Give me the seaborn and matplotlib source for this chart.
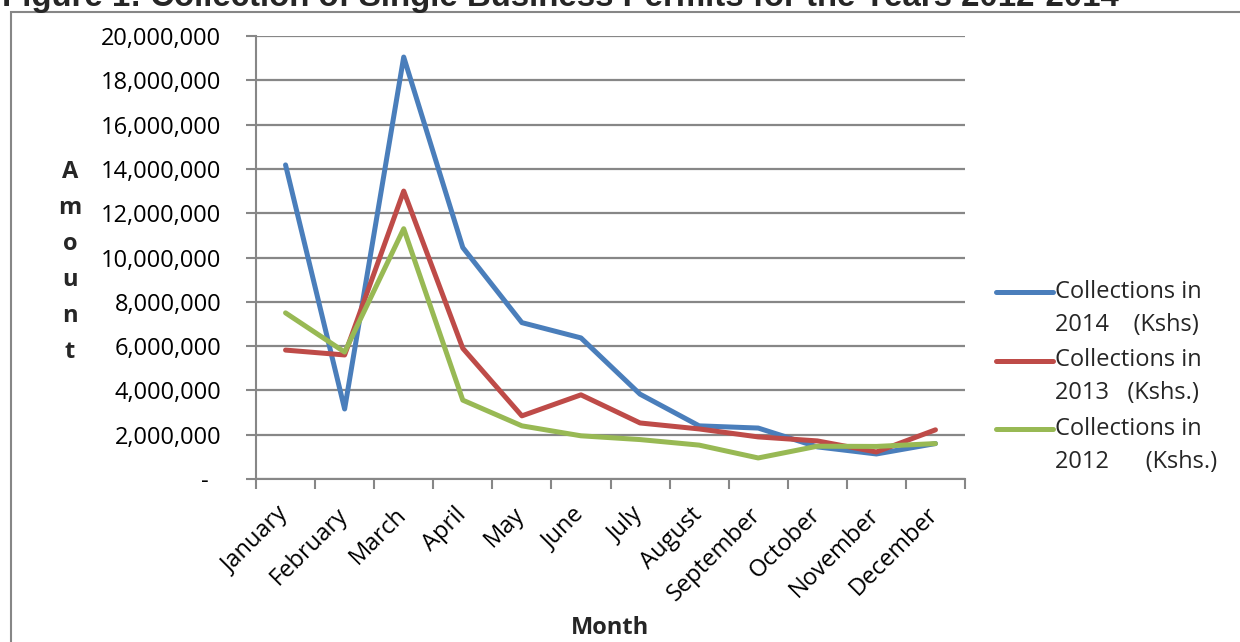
import matplotlib
matplotlib.use("Agg")
import matplotlib.pyplot as plt
import matplotlib.transforms as mtransforms
from matplotlib.patches import Rectangle
from matplotlib.lines import Line2D
from matplotlib.legend_handler import HandlerLine2D
from matplotlib.ticker import FuncFormatter, FixedLocator
import numpy as np
import pandas as pd
import seaborn as sns

months = ["January", "February", "March", "April", "May", "June", "July",
          "August", "September", "October", "November", "December"]
collections_2014 = [14_180_000, 3_160_000, 19_050_000, 10_450_000, 7_060_000, 6_370_000,
                    3_830_000, 2_400_000, 2_300_000, 1_450_000, 1_130_000, 1_600_000]
collections_2013 = [5_820_000, 5_600_000, 13_000_000, 5_900_000, 2_850_000, 3_800_000,
                    2_530_000, 2_260_000, 1_900_000, 1_720_000, 1_220_000, 2_220_000]
collections_2012 = [7_500_000, 5_730_000, 11_300_000, 3_560_000, 2_400_000, 1_950_000,
                    1_780_000, 1_530_000, 950_000, 1_480_000, 1_470_000, 1_600_000]
series_labels = ["Collections in\n2014    (Kshs)",
                 "Collections in\n2013   (Kshs.)",
                 "Collections in\n2012      (Kshs.)"]
colors = ["#4A7EBB", "#BE4B48", "#98B954"]

frames = []
for label, values in zip(series_labels, [collections_2014, collections_2013, collections_2012]):
    frames.append(pd.DataFrame({"pos": range(len(months)), "amount": values, "series": label}))
df = pd.concat(frames, ignore_index=True)


class FirstLineHandler(HandlerLine2D):
    """Legend line drawn level with the first line of a two-line label."""

    def create_artists(self, legend, orig_handle, xdescent, ydescent, width, height, fontsize, trans):
        artists = super().create_artists(legend, orig_handle, xdescent, ydescent,
                                         width, height, fontsize, trans)
        for art in artists:
            art.set_ydata(np.asarray(art.get_ydata()) + 0.72 * fontsize)
        return artists


sns.set_theme(style="white")
plt.rcParams["font.family"] = ["Open Sans", "DejaVu Sans"]

fig = plt.figure(figsize=(12.4, 6.42), dpi=100)
ax = fig.add_axes([256 / 1240, 1 - 479 / 642, (965 - 256) / 1240, (479 - 36) / 642])

sns.lineplot(data=df, x="pos", y="amount", hue="series", palette=colors,
             linewidth=3.6, ax=ax, sort=False, legend=True)

grid_col = "#878787"
ax.set_xlim(-0.5, len(months) - 0.5)
ax.set_ylim(0, 20_000_000)
ax.yaxis.set_major_locator(FixedLocator(range(0, 20_000_001, 2_000_000)))
ax.yaxis.set_major_formatter(FuncFormatter(lambda v, _: "-  " if v == 0 else f"{int(v):,}"))
ax.grid(axis="y", color=grid_col, linewidth=1.6)
ax.set_axisbelow(True)

# tick marks on category boundaries, labels at category centres
ax.xaxis.set_major_locator(FixedLocator([i - 0.5 for i in range(len(months) + 1)]))
ax.xaxis.set_major_formatter(FuncFormatter(lambda v, _: ""))
ax.xaxis.set_minor_locator(FixedLocator(range(len(months))))
ax.set_xticklabels(months, minor=True)
ax.tick_params(axis="x", which="major", length=7, width=1.5, color=grid_col, direction="out", bottom=True)
ax.tick_params(axis="x", which="minor", length=0, pad=17, labelsize=17, labelcolor="black")
shift = mtransforms.ScaledTranslation(-9 / 100, 0, fig.dpi_scale_trans)
for lbl in ax.get_xticklabels(minor=True):
    lbl.set_rotation(45)
    lbl.set_ha("right")
    lbl.set_rotation_mode("anchor")
    lbl.set_transform(lbl.get_transform() + shift)
ax.tick_params(axis="y", length=7, width=1.5, color=grid_col, direction="out", left=True,
               labelsize=17, labelcolor="black", pad=18)

for side in ["top", "right"]:
    ax.spines[side].set_visible(False)
for side in ["left", "bottom"]:
    ax.spines[side].set_color(grid_col)
    ax.spines[side].set_linewidth(1.5)

ax.set_xlabel("")
ax.set_ylabel("")

handles, labels = ax.get_legend_handles_labels()
leg = ax.legend(handles, labels, frameon=False, fontsize=17, loc="center left",
                bbox_to_anchor=(996 / 1240, 1 - 377 / 642), bbox_transform=fig.transFigure,
                handlelength=2.4, handletextpad=0.1, labelspacing=0.48, borderaxespad=0,
                borderpad=0, handler_map={Line2D: FirstLineHandler()})
for txt in leg.get_texts():
    txt.set_linespacing(1.5)
for line in leg.get_lines():
    line.set_linewidth(3.6)

fig.text(70 / 1240, 1 - 262 / 642, "A\nm\no\nu\nn\nt", ha="center", va="center",
         fontsize=17, fontweight="bold", linespacing=1.66)
fig.text(610 / 1240, 1 - 628 / 642, "Month", ha="center", va="center",
         fontsize=17, fontweight="bold")

fig.text(2 / 1240, 1 - 6 / 642, "Figure 1: Collection of Single Business Permits for the Years 2012-2014",
         ha="left", va="baseline", fontsize=23.8, fontweight="bold", family="Liberation Sans")

fig.patches.append(Rectangle((11 / 1240, -0.1), 1.2, 1.1 - 12 / 642, transform=fig.transFigure,
                             fill=False, edgecolor="#868686", linewidth=1.5))

fig.savefig("out.png", dpi=100)
